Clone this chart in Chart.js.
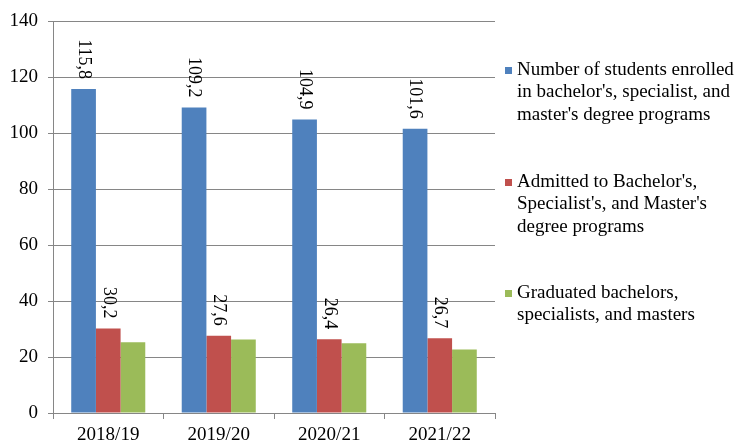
<!DOCTYPE html>
<html>
<head>
<meta charset="utf-8">
<script src="https://cdn.jsdelivr.net/npm/chart.js@4/dist/chart.umd.min.js"></script>
<style>
html,body{margin:0;padding:0;background:#fff;}
#wrap{width:739px;height:444px;position:relative;}
</style>
</head>
<body>
<div id="wrap"><canvas id="c" width="739" height="444"></canvas></div>
<script>
const categories = ["2018/19", "2019/20", "2020/21", "2021/22"];
const enrolled = [115.8, 109.2, 104.9, 101.6];
const admitted = [30.2, 27.6, 26.4, 26.7];
const graduated = [25.3, 26.3, 24.9, 22.7];
const seriesNames = [
  ["Number of students enrolled", "in bachelor's, specialist, and", "master's degree programs"],
  ["Admitted to Bachelor's,", "Specialist's, and Master's", "degree programs"],
  ["Graduated bachelors,", "specialists, and masters"]
];
const colors = ["#4F81BD", "#C0504D", "#9BBB59"];
const showLabels = [true, true, false];

const FONT = "'Liberation Serif', 'Times New Roman', serif";

const labelPlugin = {
  id: 'rotLabels',
  afterDatasetsDraw(chart) {
    const ctx = chart.ctx;
    chart.data.datasets.forEach((ds, i) => {
      if (!showLabels[i]) return;
      const meta = chart.getDatasetMeta(i);
      meta.data.forEach((bar, j) => {
        const v = ds.data[j];
        ctx.save();
        ctx.translate(bar.x, bar.y - 10);
        ctx.rotate(Math.PI / 2);
        ctx.font = "18px " + FONT;
        ctx.fillStyle = "#000";
        ctx.textAlign = "right";
        ctx.textBaseline = "middle";
        ctx.fillText(v.toFixed(1).replace('.', ','), 0, 0);
        ctx.restore();
      });
    });
  }
};

const legendPlugin = {
  id: 'customLegend',
  afterDraw(chart) {
    const ctx = chart.ctx;
    const starts = [70, 182, 293];
    ctx.save();
    ctx.font = "19px " + FONT;
    ctx.textBaseline = "middle";
    ctx.textAlign = "left";
    seriesNames.forEach((lines, i) => {
      const y0 = starts[i];
      ctx.fillStyle = colors[i];
      ctx.fillRect(505, y0 - 3, 7, 7);
      ctx.fillStyle = "#000";
      lines.forEach((t, k) => {
        ctx.fillText(t, 517, y0 + k * 22.5);
      });
    });
    ctx.restore();
  }
};

Chart.defaults.font.family = FONT;

new Chart(document.getElementById('c'), {
  type: 'bar',
  data: {
    labels: categories,
    datasets: [
      { label: seriesNames[0].join(' '), data: enrolled, backgroundColor: colors[0] },
      { label: seriesNames[1].join(' '), data: admitted, backgroundColor: colors[1] },
      { label: seriesNames[2].join(' '), data: graduated, backgroundColor: colors[2] }
    ]
  },
  options: {
    responsive: false,
    animation: false,
    devicePixelRatio: 1,
    layout: { padding: { top: 21, right: 244, left: 0, bottom: 0 } },
    datasets: { bar: { categoryPercentage: 0.67, barPercentage: 1.0 } },
    plugins: { legend: { display: false }, tooltip: { enabled: false } },
    scales: {
      x: {
        grid: { display: true, drawOnChartArea: false, drawTicks: true, tickLength: 6, color: '#868686', offset: true },
        border: { color: '#868686', width: 1 },
        ticks: { color: '#000', font: { family: FONT, size: 19 }, padding: 5, maxRotation: 0 },
        afterFit(s) { s.height = 31; }
      },
      y: {
        min: 0, max: 140,
        grid: { color: '#868686', tickLength: 5, lineWidth: 1 },
        border: { color: '#868686', width: 1 },
        ticks: { stepSize: 20, color: '#000', font: { family: FONT, size: 19 }, padding: 10 },
        afterFit(s) { s.width = 53; }
      }
    }
  },
  plugins: [labelPlugin, legendPlugin]
});
</script>
</body>
</html>
